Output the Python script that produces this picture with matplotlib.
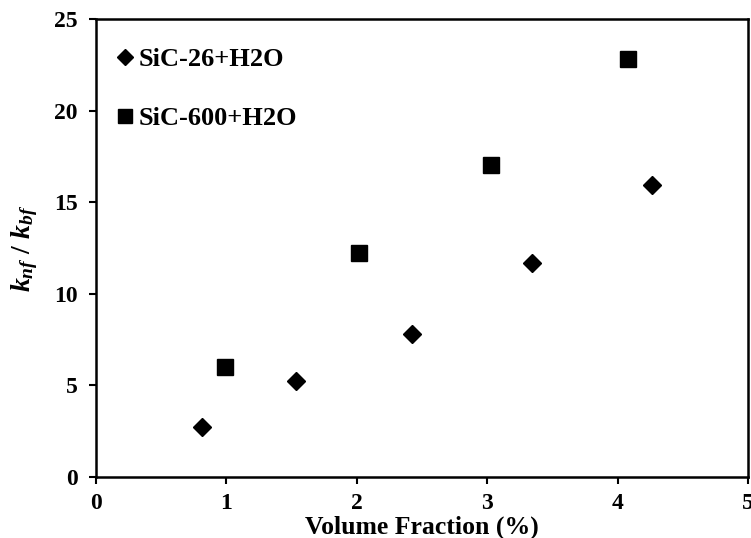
import matplotlib
matplotlib.use("Agg")
import matplotlib.pyplot as plt

# thermal conductivity ratio vs volume fraction
vf_26 = [0.81, 1.53, 2.42, 3.34, 4.26]
k_26 = [2.7, 5.2, 7.8, 11.65, 15.95]
vf_600 = [0.99, 2.02, 3.03, 4.08]
k_600 = [6.0, 12.2, 17.0, 22.8]

plt.rcParams["font.family"] = "Liberation Serif"
plt.rcParams["font.weight"] = "bold"
plt.rcParams["mathtext.fontset"] = "custom"
plt.rcParams["mathtext.it"] = "Liberation Serif:italic"
plt.rcParams["mathtext.rm"] = "Liberation Serif"

fig = plt.figure(figsize=(7.51, 5.38), dpi=100)
ax = fig.add_axes([96 / 751, 1 - 476.7 / 538, 652 / 751, 457.7 / 538])

ax.plot(vf_26, k_26, "D", color="black", markersize=9, linestyle="none", label="SiC-26+H2O")
ax.plot(vf_600, k_600, "s", color="black", markersize=12, linestyle="none", label="SiC-600+H2O")

ax.set_xlim(0, 5)
ax.set_ylim(0, 25)
ax.set_xticks(range(0, 6))
ax.set_yticks(range(0, 26, 5))
ax.tick_params(direction="out", length=5, width=1.5, labelsize=17, pad=8)
ax.tick_params(axis="x", pad=7)
for lab in ax.get_xticklabels() + ax.get_yticklabels():
    lab.set_fontweight("bold")
for sp in ax.spines.values():
    sp.set_linewidth(1.8)

ax.set_xlabel("Volume Fraction (%)", fontsize=18.5, fontweight="bold", labelpad=1)
ax.set_ylabel(r"$k_{nf}\ /\ k_{bf}$", fontsize=20, labelpad=10)

leg = ax.legend(loc="upper left", frameon=False, fontsize=19, handletextpad=0.1,
                handlelength=0.8, labelspacing=1.35, borderaxespad=0.0,
                markerscale=0.85, bbox_to_anchor=(0.012, 0.96))
for t in leg.get_texts():
    t.set_fontweight("bold")

fig.savefig("out.png", dpi=100)
